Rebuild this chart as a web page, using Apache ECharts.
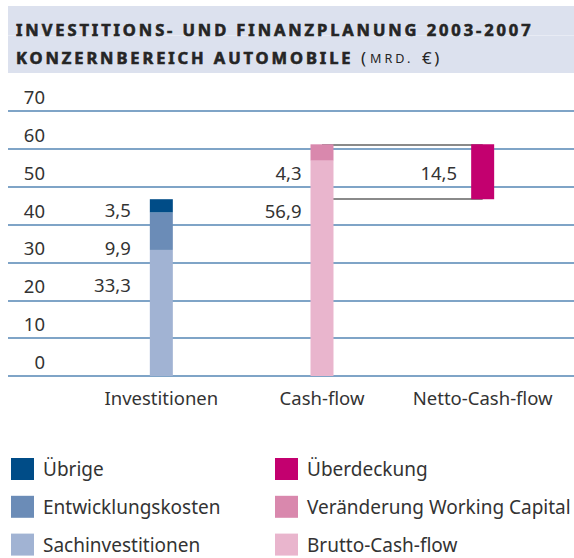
<!DOCTYPE html>
<html>
<head>
<meta charset="utf-8">
<script src="https://cdn.jsdelivr.net/npm/echarts@6/dist/echarts.min.js"></script>
<style>
html,body{margin:0;padding:0;background:#fff;}
#c{width:574px;height:558px;}
/* tracked (letter-spaced) title text, as in the reference */
#c svg text[style*="16.5px"]{letter-spacing:2.9px;}
#c svg text[style*="12.6px"]{letter-spacing:3px;}
#c svg text[style*="16.9px"]{letter-spacing:2.5px;}
</style>
</head>
<body>
<div id="c"></div>
<script>
// ---- data ----
const categories = ['Investitionen', 'Cash-flow', 'Netto-Cash-flow'];
const sachinvestitionen = [33.3, null, null];
const entwicklungskosten = [9.9, null, null];
const uebrige = [3.5, null, null];
const bruttoCashflow = [null, 56.9, null];
const veraenderungWC = [null, 4.3, null];
const ueberdeckung = [null, null, 14.5];
const yTicks = [0, 10, 20, 30, 40, 50, 60, 70];
const titleLine1 = 'INVESTITIONS- UND FINANZPLANUNG 2003-2007';
const titleLine2 = 'KONZERNBEREICH AUTOMOBILE';

// ---- derived ----
const cashTop = bruttoCashflow[1] + veraenderungWC[1];
const nettoBase = [null, null, +(cashTop - ueberdeckung[2]).toFixed(1)];

const FONT = '"Noto Sans", "DejaVu Sans", sans-serif';
const TXT = '#333333';
const TTL = '#252525';
const fmt = p => (p.value == null ? '' : p.value.toFixed(1).replace('.', ','));

const col = {
  uebrige: '#004c87', entw: '#6b8cb7', sach: '#a1b3d3',
  ueber: '#c3006f', vwc: '#d988ad', brutto: '#e9b5cd'
};

function lbl(dist, dy) {
  return { show: true, position: 'left', distance: dist, offset: [0, dy],
    formatter: fmt, fontFamily: FONT, fontSize: 18.5, color: TXT };
}
function ttext(x, y, text, size, weight, heavy) {
  const st = { text: text, fontFamily: FONT, fontSize: size, fontWeight: weight,
    fill: TTL, verticalAlign: 'middle', align: 'left' };
  if (heavy) { st.stroke = TTL; st.lineWidth = 0.6; }
  return { type: 'text', x: x, y: y, z: 10, style: st };
}

const chart = echarts.init(document.getElementById('c'), null, { renderer: 'svg' });
const legendText = { fontFamily: FONT, fontSize: 19, color: TXT, padding: [5, 0, 0, 4] };
const option = {
  animation: false,
  textStyle: { fontFamily: FONT },
  graphic: [
    { type: 'rect', x: 8, y: 6, shape: { width: 566, height: 67 }, style: { fill: '#dce1ee' }, z: -10 },
    { type: 'rect', x: 8, y: 35, shape: { width: 566, height: 1 }, style: { fill: '#e8ebf4' }, z: -9 },
    ttext(16, 29, titleLine1, 16.5, 'bold', true),
    ttext(16, 57.5, titleLine2, 16.5, 'bold', true),
    ttext(361, 57.5, '(', 16.9, 'normal'),
    ttext(370, 58, 'MRD.', 12.6, 'normal'),
    ttext(422, 57.5, '€)', 16.9, 'normal')
  ],
  legend: [{
    left: 11, top: 458, orient: 'vertical', padding: 0,
    itemWidth: 23, itemHeight: 22, itemGap: 15.8, icon: 'rect', selectedMode: false,
    data: ['Übrige', 'Entwicklungskosten', 'Sachinvestitionen'],
    textStyle: legendText
  }, {
    left: 275, top: 458, orient: 'vertical', padding: 0,
    itemWidth: 23, itemHeight: 22, itemGap: 15.8, icon: 'rect', selectedMode: false,
    data: ['Überdeckung', 'Veränderung Working Capital', 'Brutto-Cash-flow'],
    textStyle: legendText
  }],
  grid: [
    { left: 8, right: 0, top: 111, bottom: 182 },
    { left: 81, right: 11, top: 111, bottom: 182 }
  ],
  xAxis: [
    { gridIndex: 0, type: 'value', show: false, min: 0, max: 1 },
    { gridIndex: 1, type: 'category', data: categories,
      axisLine: { show: false }, axisTick: { show: false },
      axisLabel: { interval: 0, hideOverlap: false, margin: 12,
        fontFamily: FONT, fontSize: 18.5, color: TXT } }
  ],
  yAxis: [
    { gridIndex: 0, type: 'value', min: yTicks[0], max: yTicks[yTicks.length - 1], interval: 10,
      axisLine: { show: false }, axisTick: { show: false },
      splitLine: { show: true, lineStyle: { color: '#5586b5', width: 1.5 } },
      axisLabel: { inside: true, margin: 37, align: 'right', verticalAlign: 'bottom',
        padding: [0, 0, 5, 0], fontFamily: FONT, fontSize: 18.5, color: TXT } },
    { gridIndex: 1, type: 'value', min: yTicks[0], max: yTicks[yTicks.length - 1], interval: 10,
      show: false, splitLine: { show: false } }
  ],
  series: [
    { name: 'Sachinvestitionen', type: 'bar', stack: 'all', xAxisIndex: 1, yAxisIndex: 1, z: 3,
      barWidth: 23, data: sachinvestitionen, itemStyle: { color: col.sach }, label: lbl(19, -28) },
    { name: 'Entwicklungskosten', type: 'bar', stack: 'all', xAxisIndex: 1, yAxisIndex: 1, z: 3,
      barWidth: 23, data: entwicklungskosten, itemStyle: { color: col.entw }, label: lbl(19, 16) },
    { name: 'Übrige', type: 'bar', stack: 'all', xAxisIndex: 1, yAxisIndex: 1, z: 3,
      barWidth: 23, data: uebrige, itemStyle: { color: col.uebrige }, label: lbl(19, 4) },
    { name: 'Brutto-Cash-flow', type: 'bar', stack: 'all', xAxisIndex: 1, yAxisIndex: 1, z: 3,
      barWidth: 23, data: bruttoCashflow, itemStyle: { color: col.brutto }, label: lbl(9, -58) },
    { name: 'Veränderung Working Capital', type: 'bar', stack: 'all', xAxisIndex: 1, yAxisIndex: 1, z: 3,
      barWidth: 23, data: veraenderungWC, itemStyle: { color: col.vwc }, label: lbl(9, 20) },
    { name: 'base', type: 'bar', stack: 'all', xAxisIndex: 1, yAxisIndex: 1, z: 1,
      barWidth: 23, data: nettoBase, itemStyle: { color: 'rgba(0,0,0,0)' }, silent: true,
      markLine: {
        z: 1, silent: true, symbol: 'none', label: { show: false },
        lineStyle: { color: '#8a8a8a', width: 2, type: 'solid' },
        data: [
          [{ coord: [categories[1], cashTop] }, { coord: [categories[2], cashTop] }],
          [{ coord: [categories[1], nettoBase[2]] }, { coord: [categories[2], nettoBase[2]] }]
        ]
      } },
    { name: 'Überdeckung', type: 'bar', stack: 'all', xAxisIndex: 1, yAxisIndex: 1, z: 3,
      barWidth: 23, data: ueberdeckung, itemStyle: { color: col.ueber }, label: lbl(14, 1) }
  ]
};
chart.setOption(option);
</script>
</body>
</html>
